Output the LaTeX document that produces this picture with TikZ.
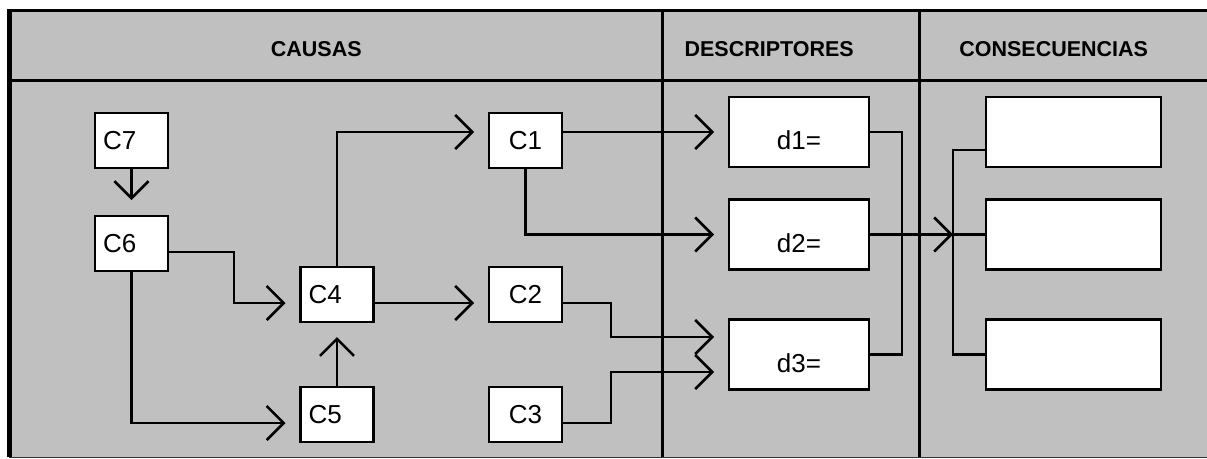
\documentclass[tikz,border=0pt]{standalone}
\usepackage{fontspec}
\setmainfont{Liberation Sans}
\usetikzlibrary{arrows.meta}
\definecolor{bggray}{RGB}{192,192,192}
\begin{document}
\begin{tikzpicture}[x=1pt,y=-1pt,
  box/.style={draw=black, fill=white, line width=2.5pt, inner sep=0pt, outer sep=0pt,
    minimum width=73pt, minimum height=55pt, font=\fontsize{26}{28}\selectfont,
    text height=18.6pt, text depth=0pt},
  lbox/.style={box, text width=57pt, align=left},
  dbox/.style={box, minimum width=140pt, minimum height=70pt, text height=35.6pt},
  kbox/.style={box, minimum width=175pt, minimum height=70pt},
  conn/.style={line width=2.6pt},
  arr/.style={conn, -{Straight Barb[length=17pt,width=34pt]}},
  head/.style={font=\bfseries\fontsize{21.5}{24}\selectfont, inner sep=0pt, anchor=base},
  rule/.style={line width=3pt}
]
\useasboundingbox (0,0) rectangle (1207,458);
% table
\fill[bggray] (9,10) rectangle (1207,457);
\draw[line width=1pt, black!80] (9,457) -- (1207,457);
\draw[rule] (9.5,80) -- (1207,80);
\draw[rule] (662.5,10) -- (662.5,457);
\draw[rule] (919.5,10) -- (919.5,457);
\draw[line width=3.4pt] (7,10.7) -- (1207,10.7);
\draw[line width=4.7pt] (9.7,9) -- (9.7,457);
% headers
\node[head] (hc) at (316.3,56.7) {CAUSAS};
\node[head] (hd) at (769.2,56.7) {DESCRIPTORES};
\node[head] (hk) at (1053.7,56.7) {CONSECUENCIAS};
% boxes
\node[lbox] (c7) at (131.5,140.5) {C7};
\node[lbox] (c6) at (131.5,243.5) {C6};
\node[lbox] (c4) at (337,294.5) {C4};
\node[lbox] (c5) at (337,414.5) {C5};
\node[box] (c1) at (525.5,140.5) {C1};
\node[box] (c2) at (525.5,294.5) {C2};
\node[box] (c3) at (525.5,414.5) {C3};
\node[dbox] (d1) at (799,132) {d1=};
\node[dbox] (d2) at (799,234.5) {d2=};
\node[dbox] (d3) at (799,354.5) {d3=};
\node[kbox] (k1) at (1073.5,132) {};
\node[kbox] (k2) at (1073.5,234.5) {};
\node[kbox] (k3) at (1073.5,354.5) {};
% connectors
\draw[arr, shorten >=16pt] (c7.south) -- (c6.north);
\draw[arr, shorten >=15pt] ([yshift=-8.5pt]c6.east) -| (234,303) -- ([yshift=-8.5pt]c4.west);
\draw[arr, shorten >=15pt] (c6.south) |- ([yshift=-8.5pt]c5.west);
\draw[arr, shorten >=15pt] (c5.north) -- (c4.south);
\draw[arr, shorten >=15pt] (c4.north) |- ([yshift=8.5pt]c1.west);
\draw[arr, shorten >=15pt] ([yshift=-8.5pt]c4.east) -- ([yshift=-8.5pt]c2.west);
\draw[arr, shorten >=15pt] ([yshift=8.5pt]c1.east) -- (d1.west);
\draw[arr, shorten >=15pt] (c1.south) |- (d2.west);
\draw[arr, shorten >=15pt] ([yshift=-8.5pt]c2.east) -| (611,337) -- ([yshift=17.5pt]d3.west);
\draw[arr, shorten >=15pt] ([yshift=-8.5pt]c3.east) -| (611,372) -- ([yshift=-17.5pt]d3.west);
\coordinate (m) at (902,243);
\draw[conn] (d1.east) -| (m) |- (d3.east);
\coordinate (j) at (953,234.5);
\draw[arr] (d2.east) -- (j);
\draw[conn] ([yshift=-18pt]k1.west) -| (j) |- (k3.west);
\draw[conn] (j) -- (k2.west);
\end{tikzpicture}
\end{document}
